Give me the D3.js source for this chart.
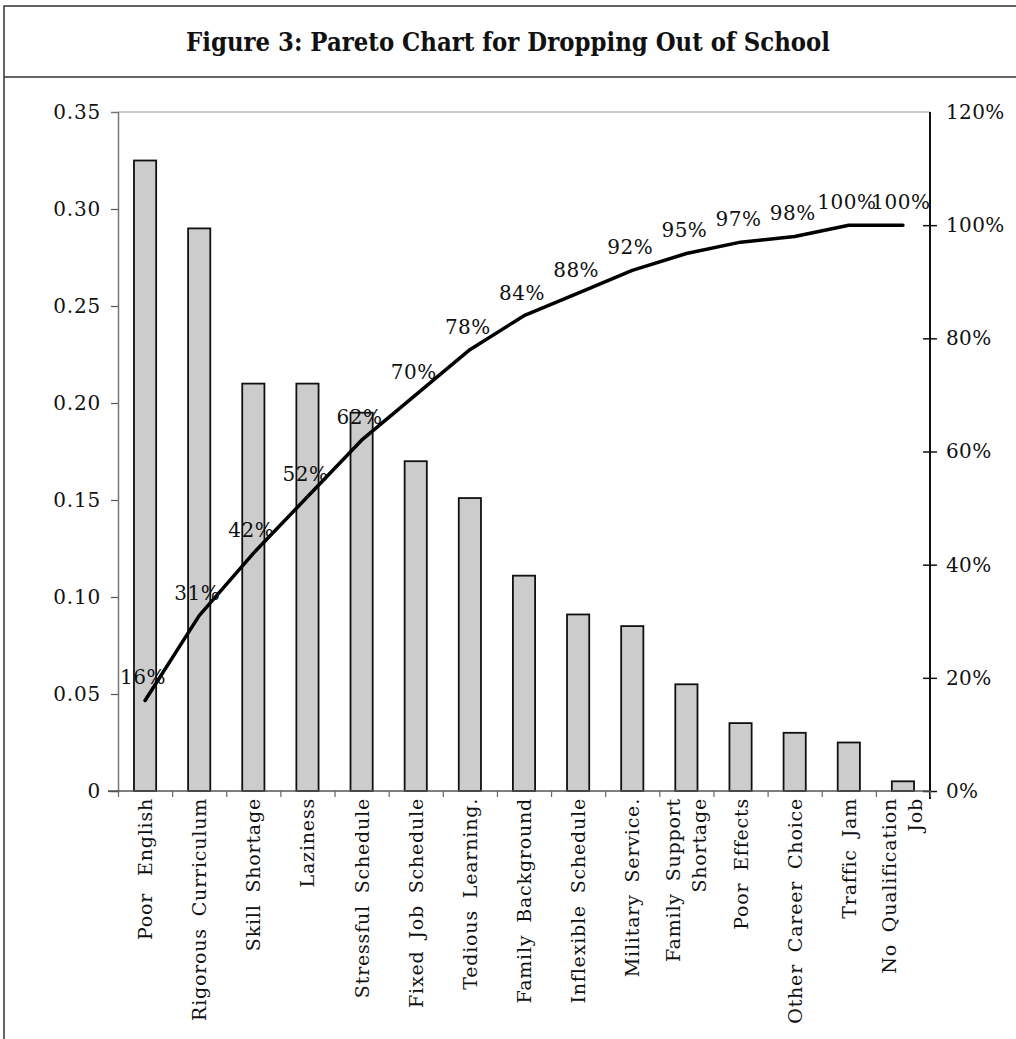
<!DOCTYPE html>
<html>
<head>
<meta charset="utf-8">
<script src="https://cdn.jsdelivr.net/npm/d3@7"></script>
<style>
    body { margin: 0; background: #fff; }
    text { font-family: "DejaVu Serif", serif; fill: #111; }
</style>
</head>
<body>
<script>
"use strict";

// data
const categories = ["Poor English", "Rigorous Curriculum", "Skill Shortage", "Laziness",
                    "Stressful Schedule", "Fixed Job Schedule", "Tedious Learning.",
                    "Family Background", "Inflexible Schedule", "Military Service.",
                    "Family Support|Shortage", "Poor Effects", "Other Career Choice",
                    "Traffic Jam", "No Qualification|Job"];
const shares = [0.325, 0.29, 0.21, 0.21, 0.195, 0.17, 0.151, 0.111, 0.091, 0.085,
                0.055, 0.035, 0.03, 0.025, 0.005];
const cumulative = [0.16, 0.31, 0.42, 0.52, 0.62, 0.70, 0.78, 0.84, 0.88, 0.92,
                    0.95, 0.97, 0.98, 1.00, 1.00];
const leftTicks = [0, 0.05, 0.10, 0.15, 0.20, 0.25, 0.30, 0.35];
const rightTicks = [0, 0.2, 0.4, 0.6, 0.8, 1.0, 1.2];
const title = "Figure 3: Pareto Chart for Dropping Out of School";

const W = 1016, H = 1039;
const plot = { left: 118, right: 930, top: 112, bottom: 791 };

const svg = d3.select("body").append("svg")
    .attr("width", W)
    .attr("height", H);

// frame around the figure
svg.append("path")
    .attr("d", `M4,${H} V6 H${W} M4,77 H${W}`)
    .attr("fill", "none")
    .attr("stroke", "#333")
    .attr("stroke-width", 1.5);

svg.append("text")
    .attr("x", 186)
    .attr("y", 51)
    .attr("textLength", 644)
    .attr("lengthAdjust", "spacingAndGlyphs")
    .style("font-size", "26px")
    .style("font-weight", "bold")
    .text(title);

const xScale = d3.scaleBand()
                 .domain(categories)
                 .range([plot.left, plot.right])
                 .paddingInner(0.59)
                 .paddingOuter(0.295);
const yScale = d3.scaleLinear()
                 .domain([0, 0.35])
                 .range([plot.bottom, plot.top]);
const y2Scale = d3.scaleLinear()
                  .domain([0, 1.2])
                  .range([plot.bottom, plot.top]);
const slotScale = d3.scaleLinear()
                    .domain([0, categories.length])
                    .range([plot.left, plot.right]);

// top edge of plot area
svg.append("line")
    .attr("x1", plot.left).attr("x2", plot.right)
    .attr("y1", plot.top).attr("y2", plot.top)
    .attr("stroke", "#999")
    .attr("stroke-width", 1.2);

// bars
svg.append("g")
    .selectAll("rect")
    .data(categories)
    .join("rect")
    .attr("x", d => xScale(d))
    .attr("y", (d, i) => yScale(shares[i]))
    .attr("width", xScale.bandwidth())
    .attr("height", (d, i) => plot.bottom - yScale(shares[i]))
    .attr("fill", "#cccccc")
    .attr("stroke", "#111")
    .attr("stroke-width", 1.8);

// left axis
const leftAxis = svg.append("g")
    .attr("transform", `translate(${plot.left},0)`)
    .call(d3.axisLeft(yScale)
            .tickValues(leftTicks)
            .tickFormat(d => d === 0 ? "0" : d3.format(".2f")(d))
            .tickSize(7)
            .tickPadding(10));
leftAxis.select(".domain").attr("stroke", "#777").attr("stroke-width", 1.5);
leftAxis.selectAll(".tick line").attr("stroke", "#555").attr("stroke-width", 1.2);
leftAxis.selectAll(".tick").filter(d => d === 0.35).select("line").remove();
leftAxis.selectAll(".tick line").filter(d => d === 0).attr("x1", -10).attr("x2", 0);
leftAxis.selectAll("text")
    .style("font-size", "20px")
    .style("font-family", "DejaVu Serif")
    .attr("letter-spacing", "0.8px")
    .attr("fill", "#111");

// right axis
const rightAxis = svg.append("g")
    .attr("transform", `translate(${plot.right},0)`)
    .call(d3.axisRight(y2Scale)
            .tickValues(rightTicks)
            .tickFormat(d3.format(".0%"))
            .tickSize(7)
            .tickPadding(9));
rightAxis.select(".domain")
    .attr("d", `M0,${plot.top}V${plot.bottom + 8}`)
    .attr("stroke", "#111")
    .attr("stroke-width", 2);
rightAxis.selectAll(".tick line")
    .attr("x1", -7)
    .attr("stroke", "#111")
    .attr("stroke-width", 1.5);
rightAxis.selectAll(".tick").filter(d => d === 1.2).select("line").remove();
rightAxis.selectAll("text")
    .style("font-size", "20px")
    .style("font-family", "DejaVu Serif")
    .attr("letter-spacing", "0.4px")
    .attr("fill", "#111");

// x axis: line with ticks between the categories
const xAxis = svg.append("g")
    .attr("transform", `translate(0,${plot.bottom})`)
    .call(d3.axisBottom(slotScale)
            .tickValues(d3.range(0, categories.length + 1))
            .tickFormat("")
            .tickSizeInner(6)
            .tickSizeOuter(0));
xAxis.select(".domain")
    .attr("d", `M${plot.left - 10},0H${plot.right}`)
    .attr("stroke", "#555")
    .attr("stroke-width", 1.5);
xAxis.selectAll(".tick line").attr("stroke", "#666").attr("stroke-width", 1.2);

// category labels, rotated
const labels = svg.append("g")
    .selectAll("text")
    .data(categories)
    .join("text")
    .attr("transform", d => `translate(${xScale(d) + xScale.bandwidth() / 2},${plot.bottom + 7}) rotate(-90)`)
    .attr("text-anchor", "end")
    .style("font-size", "19px")
    .attr("letter-spacing", "0.8px")
    .attr("word-spacing", d => d === "Poor English" ? "10px" : "5px");
labels.each(function (d) {
    const lines = d.split("|");
    const sel = d3.select(this);
    lines.forEach((line, i) => {
        const off = lines.length === 1 ? 7 : (i === 0 ? -6.5 : 19.5);
        sel.append("tspan")
           .attr("x", 0)
           .attr("y", off)
           .text(line);
    });
});

// cumulative line
const line = d3.line()
    .x((d, i) => xScale(categories[i]) + xScale.bandwidth() / 2)
    .y(d => y2Scale(d));
svg.append("path")
    .datum(cumulative)
    .attr("d", line)
    .attr("fill", "none")
    .attr("stroke", "#000")
    .attr("stroke-width", 3.5)
    .attr("stroke-linejoin", "round")
    .attr("stroke-linecap", "round");

svg.append("g")
    .selectAll("text")
    .data(cumulative)
    .join("text")
    .attr("x", (d, i) => xScale(categories[i]) + xScale.bandwidth() / 2 - 2)
    .attr("y", d => y2Scale(d) - 16)
    .attr("text-anchor", "middle")
    .style("font-size", "20px")
    .attr("letter-spacing", "0.5px")
    .text(d => d3.format(".0%")(d));
</script>
</body>
</html>
